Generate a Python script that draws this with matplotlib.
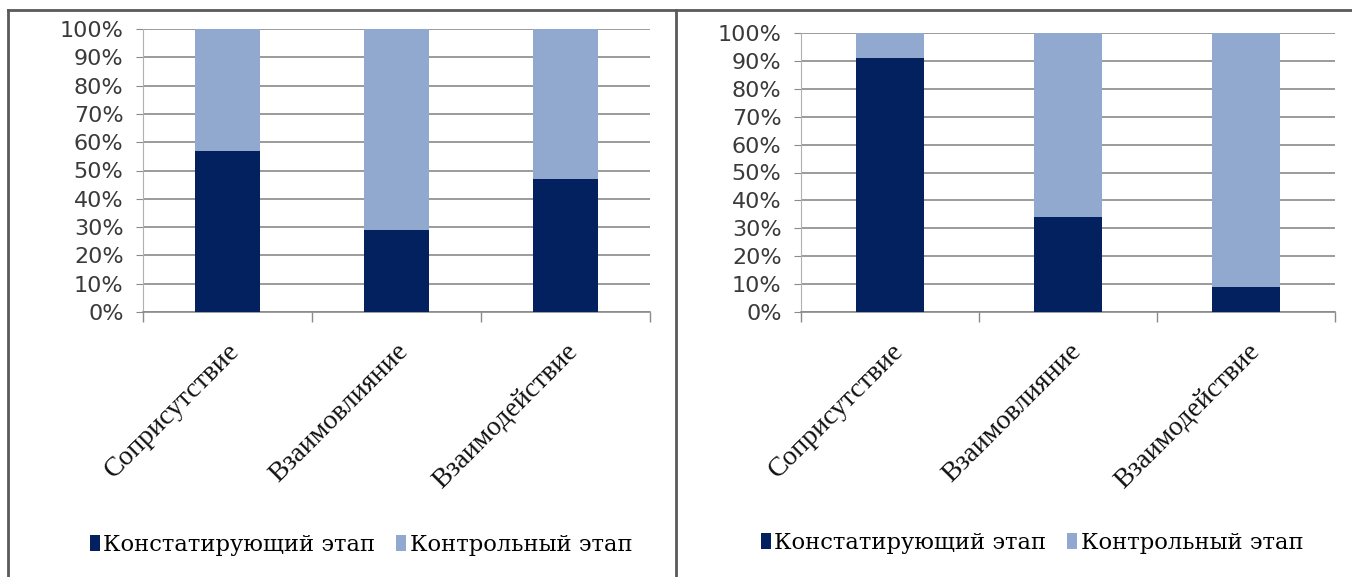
import matplotlib
matplotlib.use("Agg")
import matplotlib.pyplot as plt
from matplotlib.patches import Patch
from matplotlib.lines import Line2D
from matplotlib.ticker import PercentFormatter
import matplotlib.transforms as mtransforms

categories = ["Соприсутствие", "Взаимовлияние", "Взаимодействие"]
series_names = ["Констатирующий этап", "Контрольный этап"]
left_stage1 = [57, 29, 47]
right_stage1 = [91, 34, 9]
left_stage2 = [100 - v for v in left_stage1]
right_stage2 = [100 - v for v in right_stage1]
yticks = [0, 10, 20, 30, 40, 50, 60, 70, 80, 90, 100]

DARK = "#03215E"
LIGHT = "#92A9CF"
GRID = "#8A8A8A"

W, H = 1352, 577
fig = plt.figure(figsize=(W / 100, H / 100), dpi=100)
fig.patch.set_facecolor("white")

def px_axes(x0, y0, x1, y1):
    return fig.add_axes([x0 / W, 1 - y1 / H, (x1 - x0) / W, (y1 - y0) / H])

serif = ["Liberation Serif", "DejaVu Serif"]
wide_serif = ["DejaVu Serif"]
sans = ["DejaVu Sans"]

def draw(ax, s1, s2, xoff):
    x = list(range(len(categories)))
    ax.bar(x, s1, width=0.385, color=DARK, zorder=3)
    ax.bar(x, s2, bottom=s1, width=0.385, color=LIGHT, zorder=3)
    ax.set_xlim(-0.5, len(categories) - 0.5)
    ax.set_ylim(0, 100)
    ax.set_yticks(yticks)
    ax.yaxis.set_major_formatter(PercentFormatter(decimals=0))
    ax.grid(axis="y", color=GRID, linewidth=1.2, zorder=0)
    for s in ["top", "right"]:
        ax.spines[s].set_visible(False)
    ax.spines["left"].set_color("#B0B0B0")
    ax.spines["bottom"].set_color(GRID)
    ax.spines["bottom"].set_linewidth(1.2)
    ax.tick_params(axis="y", length=5, color=GRID, labelsize=16, pad=9,
                   labelcolor="#3A3A3A")
    for t in ax.get_yticklabels():
        t.set_family(sans)
    ax.set_xticks(x)
    ax.set_xticklabels(categories, rotation=45, ha="right", va="top",
                       rotation_mode="anchor", fontsize=20, family=serif,
                       color="#111111")
    ax.tick_params(axis="x", which="major", length=0, pad=19)
    ax.set_xticks([i - 0.5 for i in range(len(categories) + 1)], minor=True)
    ax.tick_params(axis="x", which="minor", length=7, color=GRID, width=1)
    offset = mtransforms.ScaledTranslation(xoff, 0, fig.dpi_scale_trans)
    for lab in ax.get_xticklabels():
        lab.set_transform(lab.get_transform() + offset)

axL = px_axes(143, 29, 650, 312)
draw(axL, left_stage1, left_stage2, -0.01)
axR = px_axes(801, 33, 1335, 312)
draw(axR, right_stage1, right_stage2, 0.01)

handles = [Patch(facecolor=DARK), Patch(facecolor=LIGHT)]
legkw = dict(ncol=2, frameon=False, handlelength=0.45, handleheight=0.68,
             handletextpad=0.15, columnspacing=0.9,
             prop={"family": wide_serif, "size": 16.3}, loc="center")
fig.legend(handles, series_names, bbox_to_anchor=(361 / W, 1 - 545 / H), **legkw)
fig.legend(handles, series_names, bbox_to_anchor=(1032 / W, 1 - 543 / H), **legkw)

# panel borders
bc = "#5A5A5A"
def fline(x0, y0, x1, y1):
    fig.add_artist(Line2D([x0 / W, x1 / W], [1 - y0 / H, 1 - y1 / H],
                          transform=fig.transFigure, color=bc, linewidth=2))
fline(8, 10, W, 10)
fline(8, 10, 8, H)
fline(676, 10, 676, H)

fig.savefig("out.png", dpi=100, facecolor="white")
